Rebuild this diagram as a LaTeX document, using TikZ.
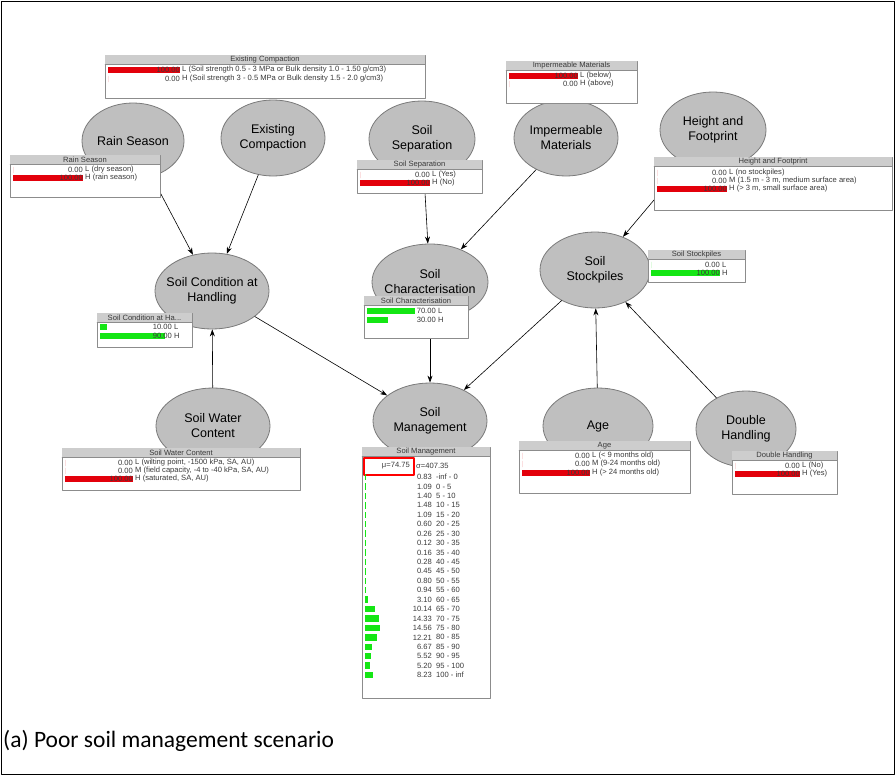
\documentclass[tikz,border=0pt]{standalone}
\usepackage{fontspec}
\setmainfont{Liberation Sans}
\newfontfamily\capfont{Carlito}
\usetikzlibrary{shapes.geometric,arrows.meta,fit}
\definecolor{nodefill}{HTML}{BFBFBF}
\definecolor{nodeline}{HTML}{7A7A7A}
\definecolor{monline}{HTML}{8C8C8C}
\definecolor{montitle}{HTML}{CDCDCD}
\definecolor{barred}{HTML}{E3000B}
\definecolor{bargreen}{HTML}{14E614}
\definecolor{rowtxt}{HTML}{3A3A3A}

% monitor box: name, x1, y1, x2, y2, title
\newcommand{\monitor}[6]{%
  \node[monbox,fit={(#2,#3) (#4,#5)}] (#1) {};
  \fill[montitle] (#2,#3) rectangle (#4,#3+9);
  \draw[monline] (#2,#3+9) -- (#4,#3+9);
  \node[titletext] (#1-t) at ({(#2+#4)/2},#3+4.5) {#6};
}
% monitor row: name, bar start, bar end, y, value, state, colour
\newcommand{\mrow}[7]{%
  \fill[#7] (#2,#4-3.2) rectangle ({#2+(#3-#2)*#5/100},#4+3.2);
  \node[rowtext,anchor=east] (#1-v) at (#3,#4) {#5};
  \node[rowtext,anchor=west] (#1-s) at (#3+2,#4) {#6};
}

\begin{document}
\begin{tikzpicture}[x=1pt,y=-1pt,line cap=round,line join=round,
  bnode/.style={ellipse,fill=nodefill,draw=nodeline,line width=0.8pt,
    minimum height=76pt,inner sep=0pt},
  blabel/.style={align=center,font=\fontsize{12.5}{15}\selectfont,inner sep=0pt},
  link/.style={draw=black,line width=0.6pt,-{Stealth[length=7pt,width=5pt]}},
  monbox/.style={rectangle,fill=white,draw=monline,line width=0.8pt,inner sep=0pt},
  titletext/.style={font=\fontsize{7.6}{8}\selectfont,text=rowtxt,inner sep=0pt},
  rowtext/.style={font=\fontsize{7.6}{8}\selectfont,text=rowtxt,inner sep=0pt}]

  \useasboundingbox (0,0) rectangle (896,776);
  \draw[line width=1.6pt] (1.5,1.5) rectangle (894.5,774.5);

  % nodes of the network
  \node[bnode,minimum width=102pt] (rain) at (133,141) {};
  \node[blabel] (rain-t) at (rain) {Rain Season};
  \node[bnode,minimum width=104pt] (excomp) at (273,138) {};
  \node[blabel] (excomp-t) at (excomp) {Existing\\Compaction};
  \node[bnode,minimum width=106pt] (sep) at (422,139) {};
  \node[blabel] (sep-t) at (sep) {Soil\\Separation};
  \node[bnode,minimum width=104pt] (imperm) at (566,138) {};
  \node[blabel] (imperm-t) at (imperm) {Impermeable\\Materials};
  \node[bnode,minimum width=106pt] (height) at (713,130) {};
  \node[blabel] (height-t) at (height) {Height and\\Footprint};
  \node[bnode,minimum width=114pt] (cond) at (212,291) {};
  \node[blabel] (cond-t) at (cond) {Soil Condition at\\Handling};
  \node[bnode,minimum width=116pt] (charac) at (430,282) {};
  \node[blabel] (charac-t) at (charac) {Soil\\Characterisation};
  \node[bnode,minimum width=110pt] (stock) at (595,270) {};
  \node[blabel] (stock-t) at (stock) {Soil\\Stockpiles};
  \node[bnode,minimum width=114pt] (water) at (213,426) {};
  \node[blabel] (water-t) at (water) {Soil Water\\Content};
  \node[bnode,minimum width=114pt] (mgmt) at (430,421) {};
  \node[blabel] (mgmt-t) at (mgmt) {Soil\\Management};
  \node[bnode,minimum width=110pt] (age) at (598,426) {};
  \node[blabel] (age-t) at (age) {Age};
  \node[bnode,minimum width=100pt] (dbl) at (746,429) {};
  \node[blabel] (dbl-t) at (dbl) {Double\\Handling};

  % links
  \draw[link] (rain) -- (cond);
  \draw[link] (excomp) -- (cond);
  \draw[link] (water) -- (cond);
  \draw[link] (sep) -- (charac);
  \draw[link] (imperm) -- (charac);
  \draw[link] (height) -- (stock);
  \draw[link] (age) -- (stock);
  \draw[link] (dbl) -- (stock);
  \draw[link] (cond) -- (mgmt);
  \draw[link] (charac) -- (mgmt);
  \draw[link] (stock) -- (mgmt);

  % monitors
  \monitor{mEC}{105}{55}{425}{98}{Existing Compaction}
  \mrow{ec1}{108}{180}{70}{100.00}{L (Soil strength 0.5 - 3 MPa or Bulk density 1.0 - 1.50 g/cm3)}{barred}
  \mrow{ec2}{108}{180}{79}{0.00}{H (Soil strength 3 - 0.5 MPa or Bulk density 1.5 - 2.0 g/cm3)}{barred}

  \monitor{mIM}{506}{61}{637}{103}{Impermeable Materials}
  \mrow{im1}{509}{578}{76}{100.00}{L (below)}{barred}
  \mrow{im2}{509}{578}{84}{0.00}{H (above)}{barred}

  \monitor{mRS}{10}{155}{160}{197}{Rain Season}
  \mrow{rs1}{13}{83}{170}{0.00}{L (dry season)}{barred}
  \mrow{rs2}{13}{83}{178}{100.00}{H (rain season)}{barred}

  \monitor{mSS}{357}{160}{482}{193}{Soil Separation}
  \mrow{ss1}{360}{430}{175}{0.00}{L (Yes)}{barred}
  \mrow{ss2}{360}{430}{183}{100.00}{H (No)}{barred}

  \monitor{mHF}{654}{157}{892}{210}{Height and Footprint}
  \mrow{hf1}{657}{727}{173}{0.00}{L (no stockpiles)}{barred}
  \mrow{hf2}{657}{727}{181}{0.00}{M (1.5 m - 3 m, medium surface area)}{barred}
  \mrow{hf3}{657}{727}{189}{100.00}{H (> 3 m, small surface area)}{barred}

  \monitor{mSP}{648}{250}{745}{282}{Soil Stockpiles}
  \mrow{sp1}{651}{720}{265}{0.00}{L}{bargreen}
  \mrow{sp2}{651}{720}{273}{100.00}{H}{bargreen}

  \monitor{mSC}{97}{313}{192}{347}{Soil Condition at Ha...}
  \mrow{sc1}{100}{172}{327}{10.00}{L}{bargreen}
  \mrow{sc2}{100}{172}{336}{90.00}{H}{bargreen}

  \monitor{mCH}{364}{296}{468}{338}{Soil Characterisation}
  \mrow{ch1}{367}{436}{311}{70.00}{L}{bargreen}
  \mrow{ch2}{367}{436}{320}{30.00}{H}{bargreen}

  \monitor{mWC}{62}{448}{300}{490}{Soil Water Content}
  \mrow{wc1}{65}{133}{463}{0.00}{L (wilting point, -1500 kPa, SA, AU)}{barred}
  \mrow{wc2}{65}{133}{471}{0.00}{M (field capacity, -4 to -40 kPa, SA, AU)}{barred}
  \mrow{wc3}{65}{133}{479}{100.00}{H (saturated, SA, AU)}{barred}

  \monitor{mAG}{519}{441}{690}{493}{Age}
  \mrow{ag1}{522}{590}{456}{0.00}{L (< 9 months old)}{barred}
  \mrow{ag2}{522}{590}{464}{0.00}{M (9-24 months old)}{barred}
  \mrow{ag3}{522}{590}{473}{100.00}{H (> 24 months old)}{barred}

  \monitor{mDH}{732}{451}{837}{494}{Double Handling}
  \mrow{dh1}{735}{800}{466}{0.00}{L (No)}{barred}
  \mrow{dh2}{735}{800}{474}{100.00}{H (Yes)}{barred}

  \monitor{mSM}{362}{447}{490}{698}{Soil Management}
  \node[rowtext,anchor=east] (sm-mu) at (410,466) {μ=74.75};
  \node[rowtext,anchor=west] (sm-sd) at (416,466) {σ=407.35};
  \draw[red,line width=1.6pt] (364,458) rectangle (414,475);
  \foreach \v/\r [count=\i] in {0.83/-inf - 0,1.09/0 - 5,1.40/5 - 10,1.48/10 - 15,
      1.09/15 - 20,0.60/20 - 25,0.26/25 - 30,0.12/30 - 35,0.16/35 - 40,
      0.28/40 - 45,0.45/45 - 50,0.80/50 - 55,0.94/55 - 60,3.10/60 - 65,
      10.14/65 - 70,14.33/70 - 75,14.56/75 - 80,12.21/80 - 85,6.67/85 - 90,
      5.52/90 - 95,5.20/95 - 100,8.23/100 - inf}{
    \fill[bargreen] (365,{464.4+\i*9.43}) rectangle ++(\v,6.4);
    \node[rowtext,anchor=east] (sm-v\i) at (432,{467.6+\i*9.43}) {\v};
    \node[rowtext,anchor=west] (sm-r\i) at (436,{467.6+\i*9.43}) {\r};
  }

  % caption
  \node[anchor=west,inner sep=0pt,font=\capfont\fontsize{23.5}{28}\selectfont] (cap)
    at (3,741) {(a) Poor soil management scenario};

\end{tikzpicture}
\end{document}
